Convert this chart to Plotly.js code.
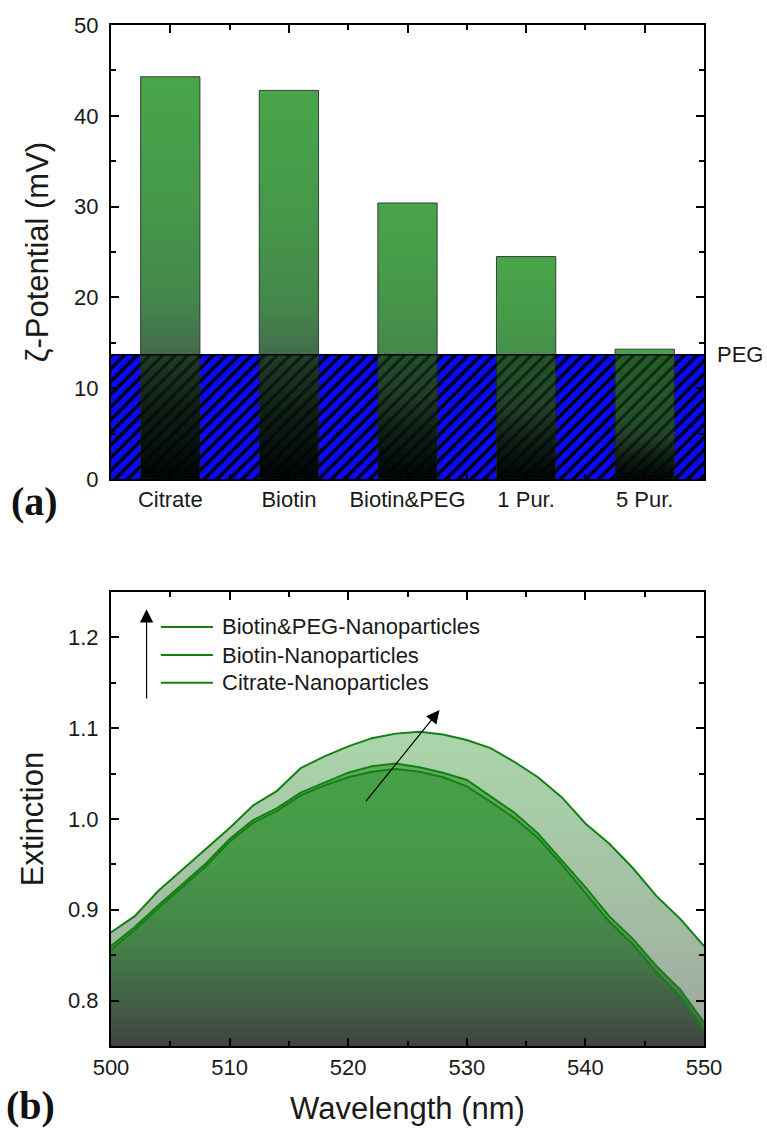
<!DOCTYPE html>
<html><head><meta charset="utf-8">
<script src="https://cdn.plot.ly/plotly-3.0.1.min.js"></script>
<style>html,body{margin:0;padding:0;background:#fff}#chart{width:767px;height:1128px}</style>
</head><body><div id="chart"></div>
<script>
// ---------- panel (a) data ----------
const categories = ['Citrate', 'Biotin', 'Biotin&PEG', '1 Pur.', '5 Pur.'];
const zetaPotential = [44.3, 42.8, 30.4, 24.5, 14.3];
const pegLevel = [13.7];
const pegLabel = 'PEG';
const zetaTicks = [0, 10, 20, 30, 40, 50];

// ---------- panel (b) data ----------
const wavelength = [500, 502, 504, 506, 508, 510, 512, 514, 516, 518, 520, 522, 524,
                    526, 528, 530, 532, 534, 536, 538, 540, 542, 544, 546, 548, 550];
const extBiotinPEG = [0.875, 0.893, 0.921, 0.944, 0.967, 0.990, 1.015, 1.031, 1.056, 1.069, 1.080, 1.089, 1.094,
                      1.096, 1.093, 1.087, 1.078, 1.063, 1.046, 1.024, 0.995, 0.973, 0.946, 0.915, 0.890, 0.860];
const extBiotin    = [0.860, 0.881, 0.905, 0.928, 0.951, 0.978, 0.999, 1.012, 1.029, 1.040, 1.051, 1.058, 1.061,
                      1.057, 1.051, 1.043, 1.025, 1.007, 0.984, 0.955, 0.925, 0.893, 0.868, 0.838, 0.812, 0.776];
const extCitrate   = [0.856, 0.878, 0.902, 0.925, 0.948, 0.975, 0.996, 1.009, 1.026, 1.037, 1.046, 1.052, 1.055,
                      1.052, 1.046, 1.036, 1.019, 1.001, 0.979, 0.950, 0.919, 0.887, 0.862, 0.831, 0.805, 0.768];
const seriesNames = ['Biotin&PEG-Nanoparticles', 'Biotin-Nanoparticles', 'Citrate-Nanoparticles'];
const extTicks = [0.8, 0.9, 1.0, 1.1, 1.2];

// ---------- styles ----------
const FONT = 'Arial, "Liberation Sans", sans-serif';
const BAR_HALF = 0.25;
const XMIN = -0.5, XMAX = categories.length - 0.5;
const barScale = [[0, 'rgba(0,0,6,0.97)'], [0.18, 'rgba(28,50,34,0.97)'], [0.32, 'rgba(62,104,70,0.97)'],
                  [0.45, 'rgba(62,132,69,0.97)'], [0.7, 'rgba(64,150,68,0.97)'], [1, 'rgba(67,162,67,0.97)']];
const lineGreen = 'rgb(20,128,20)';

const traces = [];
// PEG hatched band (base)
traces.push({
  type: 'scatter', mode: 'none', xaxis: 'x', yaxis: 'y', hoverinfo: 'skip', showlegend: false,
  x: [XMIN, XMAX, XMAX, XMIN, XMIN], y: [0, 0, pegLevel[0], pegLevel[0], 0],
  fill: 'toself', fillcolor: 'rgb(10,10,250)',
  fillpattern: {shape: '/', bgcolor: 'rgb(10,10,250)', fgcolor: 'rgb(0,0,30)', size: 9, solidity: 0.33}
});
// bars with vertical gradient
categories.forEach((c, i) => {
  const v = zetaPotential[i];
  traces.push({
    type: 'scatter', mode: 'lines', xaxis: 'x', yaxis: 'y', name: c, showlegend: false,
    x: [i - BAR_HALF, i - BAR_HALF, i + BAR_HALF, i + BAR_HALF, i - BAR_HALF],
    y: [0, v, v, 0, 0],
    fill: 'toself', line: {color: 'rgba(45,45,45,0.9)', width: 1},
    fillgradient: {type: 'vertical', colorscale: barScale, start: 0, stop: v},
    hovertemplate: c + ': %{y}<extra></extra>'
  });
});
// darker tint of each bar where it overlaps the PEG band
categories.forEach((c, i) => {
  const top = Math.min(zetaPotential[i], pegLevel[0]);
  traces.push({
    type: 'scatter', mode: 'none', xaxis: 'x', yaxis: 'y', hoverinfo: 'skip', showlegend: false,
    x: [i - BAR_HALF, i - BAR_HALF, i + BAR_HALF, i + BAR_HALF, i - BAR_HALF],
    y: [0, top, top, 0, 0], fill: 'toself', fillcolor: 'rgba(0,12,0,0.42)'
  });
});
// hatch overlay across bars
traces.push({
  type: 'scatter', mode: 'none', xaxis: 'x', yaxis: 'y', hoverinfo: 'skip', showlegend: false,
  x: [XMIN, XMAX, XMAX, XMIN, XMIN], y: [0, 0, pegLevel[0], pegLevel[0], 0],
  fill: 'toself', fillcolor: 'rgba(0,0,0,0)',
  fillpattern: {shape: '/', bgcolor: 'rgba(0,0,0,0)', fgcolor: 'rgb(0,0,0)', fgopacity: 0.55, size: 9, solidity: 0.33}
});
// PEG top edge
traces.push({
  type: 'scatter', mode: 'lines', xaxis: 'x', yaxis: 'y', hoverinfo: 'skip', showlegend: false,
  x: [XMIN, XMAX], y: [pegLevel[0], pegLevel[0]], line: {color: 'black', width: 1.5}
});

// panel (b) filled spectra
const specSeries = [extBiotinPEG, extBiotin, extCitrate];
const specScales = [
  [[0, 'rgb(158,166,158)'], [0.5, 'rgb(164,192,164)'], [1, 'rgb(170,212,170)']],
  [[0, 'rgb(80,88,80)'], [0.2, 'rgb(84,120,88)'], [0.45, 'rgb(88,160,90)'], [1, 'rgb(95,176,95)']],
  [[0, 'rgb(64,68,64)'], [0.15, 'rgb(66,96,70)'], [0.35, 'rgb(68,130,72)'], [0.6, 'rgb(70,152,72)'], [1, 'rgb(72,162,72)']]
];
specSeries.forEach((ys, k) => {
  traces.push({
    type: 'scatter', mode: 'lines', xaxis: 'x2', yaxis: 'y2', name: seriesNames[k], showlegend: false,
    x: wavelength, y: ys, fill: 'tozeroy',
    line: {color: lineGreen, width: 2},
    fillgradient: {type: 'vertical', colorscale: specScales[k], start: 0.75, stop: 1.08}
  });
});

const axBase = {
  showline: true, linewidth: 2, linecolor: 'black', mirror: 'ticks', showgrid: false, zeroline: false,
  ticks: 'inside', ticklen: 8, tickwidth: 2, tickcolor: 'black',
  tickfont: {family: FONT, size: 22, color: '#1a1a1a'}
};
const minorBase = {ticks: 'inside', ticklen: 5, tickwidth: 2, tickcolor: 'black', showgrid: false};

const annotations = [
  {xref: 'paper', yref: 'y', x: 1.018, y: pegLevel[0], xanchor: 'left', yanchor: 'middle', text: pegLabel,
   showarrow: false, font: {family: FONT, size: 22, color: '#1a1a1a'}},
  {xref: 'paper', yref: 'paper', x: -0.172, y: 0.533, xanchor: 'left', yanchor: 'middle', text: '<b>(a)</b>',
   showarrow: false, font: {family: '"Liberation Serif", "Times New Roman", serif', size: 40, color: '#111'}},
  {xref: 'paper', yref: 'paper', x: -0.180, y: -0.058, xanchor: 'left', yanchor: 'middle', text: '<b>(b)</b>',
   showarrow: false, font: {family: '"Liberation Serif", "Times New Roman", serif', size: 40, color: '#111'}},
  // vertical arrow
  {xref: 'x2', yref: 'y2', axref: 'x2', ayref: 'y2', x: 503.0, y: 1.231, ax: 503.0, ay: 1.131, text: '',
   showarrow: true, arrowhead: 2, arrowsize: 2.2, arrowwidth: 1.2, arrowcolor: 'black', standoff: 0},
  // diagonal arrow
  {xref: 'x2', yref: 'y2', axref: 'x2', ayref: 'y2', x: 527.7, y: 1.120, ax: 521.4, ay: 1.018, text: '',
   showarrow: true, arrowhead: 2, arrowsize: 2.2, arrowwidth: 1.2, arrowcolor: 'black', standoff: 0}
];
const shapes = [];
const legendRows = [0.923, 0.861, 0.800];
seriesNames.forEach((n, k) => {
  shapes.push({type: 'line', xref: 'x2 domain', yref: 'y2 domain', x0: 0.084, x1: 0.172,
               y0: legendRows[k], y1: legendRows[k], line: {color: lineGreen, width: 2}});
  annotations.push({xref: 'x2 domain', yref: 'y2 domain', x: 0.184, y: legendRows[k], xanchor: 'left',
                    yanchor: 'middle', text: n, showarrow: false, font: {family: FONT, size: 22, color: '#1a1a1a'}});
});

const layout = {
  width: 767, height: 1128,
  margin: {l: 111, r: 63, t: 25, b: 82},
  paper_bgcolor: 'white', plot_bgcolor: 'white',
  font: {family: FONT, size: 22, color: '#1a1a1a'},
  showlegend: false,
  xaxis: Object.assign({}, axBase, {
    domain: [0, 1], anchor: 'y', range: [XMIN, XMAX], tickmode: 'array',
    tickvals: categories.map((c, i) => i), ticktext: categories, ticklabelstandoff: 0,
    minor: Object.assign({}, minorBase, {tickmode: 'array', tickvals: categories.slice(1).map((c, i) => i + 0.5)})
  }),
  yaxis: Object.assign({}, axBase, {
    domain: [0.5553, 1], anchor: 'x', range: [0, 50], tickmode: 'array', tickvals: zetaTicks,
    ticklabelstandoff: 6,
    minor: Object.assign({}, minorBase, {dtick: 5}),
    title: {text: 'ζ-Potential (mV)', font: {family: FONT, size: 31, color: '#1a1a1a'}, standoff: 16}
  }),
  xaxis2: Object.assign({}, axBase, {
    domain: [0, 1], anchor: 'y2', range: [500, 550], dtick: 10, ticklabelstandoff: 1,
    minor: Object.assign({}, minorBase, {dtick: 5}),
    title: {text: 'Wavelength (nm)', font: {family: FONT, size: 31, color: '#1a1a1a'}, standoff: 18}
  }),
  yaxis2: Object.assign({}, axBase, {
    domain: [0, 0.4447], anchor: 'x2', range: [0.75, 1.25], tickmode: 'array', tickvals: extTicks,
    tickformat: '.1f', ticklabelstandoff: 6,
    minor: Object.assign({}, minorBase, {dtick: 0.05}),
    title: {text: 'Extinction', font: {family: FONT, size: 31, color: '#1a1a1a'}, standoff: 15}
  }),
  annotations: annotations,
  shapes: shapes
};

Plotly.newPlot('chart', traces, layout, {staticPlot: true, displayModeBar: false});
</script>
</body></html>
